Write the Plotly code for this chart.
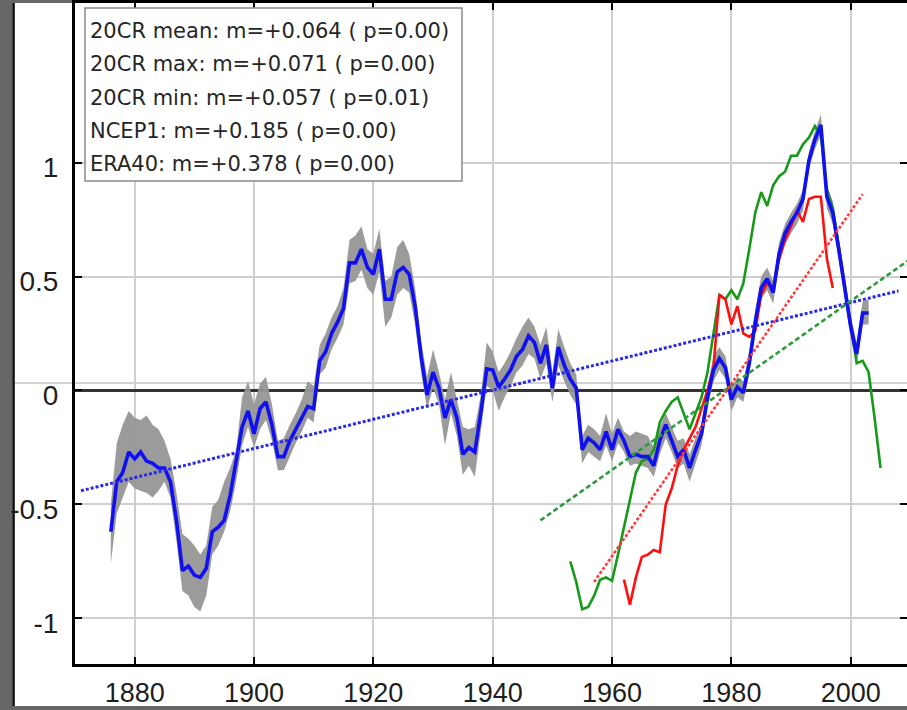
import plotly.graph_objects as go

# 20CR ensemble: yearly mean with ensemble max / min envelope
cr_start = 1876
cr_mean = [
    -0.62, -0.40, -0.36, -0.27, -0.30, -0.27, -0.31, -0.32, -0.34, -0.34,   # 1876-1885
    -0.40, -0.57, -0.79, -0.77, -0.81, -0.82, -0.78, -0.62, -0.60, -0.57,   # 1886-1895
    -0.46, -0.32, -0.16, -0.09, -0.19, -0.08, -0.05, -0.15, -0.29, -0.29,   # 1896-1905
    -0.22, -0.17, -0.12, -0.07, -0.08, 0.13, 0.17, 0.25, 0.30, 0.36,        # 1906-1915
    0.56, 0.56, 0.62, 0.54, 0.51, 0.62, 0.40, 0.40, 0.52, 0.54,             # 1916-1925
    0.51, 0.37, 0.15, -0.02, 0.08, 0.01, -0.12, -0.04, -0.12, -0.28,        # 1926-1935
    -0.25, -0.27, -0.10, 0.095, 0.09, 0.015, 0.05, 0.09, 0.15, 0.18,        # 1936-1945
    0.24, 0.21, 0.12, 0.20, 0.01, 0.19, 0.11, 0.05, 0.01, -0.26,            # 1946-1955
    -0.21, -0.23, -0.26, -0.18, -0.26, -0.17, -0.22, -0.29, -0.28, -0.29,   # 1956-1965
    -0.29, -0.33, -0.22, -0.15, -0.22, -0.29, -0.26, -0.34, -0.26, -0.19,   # 1966-1975
    -0.03, 0.09, 0.14, 0.10, -0.04, 0.015, -0.01, 0.12, 0.30, 0.45,         # 1976-1985
    0.49, 0.43, 0.60, 0.69, 0.74, 0.78, 0.84, 1.01, 1.10, 1.165,            # 1986-1995
    0.85, 0.78, 0.62, 0.45, 0.28, 0.16, 0.34, 0.34,                         # 1996-2003
]
cr_max = [
    -0.50, -0.23, -0.15, -0.09, -0.12, -0.13, -0.11, -0.15, -0.17, -0.22,
    -0.30, -0.45, -0.63, -0.65, -0.68, -0.72, -0.68, -0.51, -0.48, -0.40,
    -0.34, -0.26, -0.03, 0.04, -0.06, 0.03, 0.06, -0.06, -0.22, -0.21,
    -0.15, -0.10, -0.04, 0.04, 0.02, 0.20, 0.25, 0.32, 0.37, 0.45,
    0.66, 0.68, 0.72, 0.62, 0.60, 0.71, 0.48, 0.50, 0.63, 0.66,
    0.60, 0.45, 0.22, 0.06, 0.18, 0.08, -0.04, 0.08, -0.04, -0.16,
    -0.17, -0.16, -0.02, 0.21, 0.17, 0.08, 0.12, 0.17, 0.23, 0.28,
    0.32, 0.28, 0.20, 0.28, 0.08, 0.27, 0.19, 0.12, 0.07, -0.20,
    -0.15, -0.17, -0.20, -0.10, -0.19, -0.12, -0.18, -0.20, -0.18, -0.19,
    -0.20, -0.25, -0.16, -0.10, -0.16, -0.22, -0.21, -0.28, -0.21, -0.14,
    0.02, 0.15, 0.19, 0.15, 0.01, 0.06, 0.04, 0.17, 0.35, 0.50,
    0.54, 0.48, 0.65, 0.73, 0.78, 0.82, 0.88, 1.05, 1.14, 1.21,
    0.90, 0.83, 0.67, 0.50, 0.33, 0.21, 0.39, 0.40,
]
cr_min = [
    -0.76, -0.54, -0.47, -0.40, -0.43, -0.44, -0.45, -0.47, -0.44, -0.40,
    -0.47, -0.66, -0.88, -0.90, -0.95, -0.97, -0.90, -0.72, -0.68, -0.62,
    -0.53, -0.40, -0.24, -0.16, -0.25, -0.17, -0.13, -0.22, -0.35, -0.35,
    -0.29, -0.23, -0.18, -0.12, -0.14, 0.07, 0.10, 0.18, 0.23, 0.29,
    0.47, 0.48, 0.53, 0.45, 0.42, 0.52, 0.28, 0.32, 0.42, 0.45,
    0.43, 0.29, 0.08, -0.08, 0.01, -0.06, -0.24, -0.10, -0.20, -0.37,
    -0.33, -0.38, -0.18, 0.02, 0.00, -0.09, -0.03, 0.02, 0.08, 0.11,
    0.16, 0.14, 0.05, 0.12, -0.05, 0.11, 0.04, -0.02, -0.06, -0.32,
    -0.27, -0.29, -0.31, -0.24, -0.31, -0.23, -0.27, -0.33, -0.32, -0.33,
    -0.34, -0.38, -0.28, -0.21, -0.27, -0.34, -0.32, -0.40, -0.32, -0.24,
    -0.08, 0.04, 0.09, 0.05, -0.09, -0.03, -0.05, 0.07, 0.25, 0.40,
    0.44, 0.38, 0.55, 0.64, 0.69, 0.73, 0.79, 0.97, 1.06, 1.12,
    0.80, 0.73, 0.57, 0.40, 0.23, 0.11, 0.29, 0.29,
]

# NCEP1 reanalysis
ncep_start = 1953
ncep1 = [
    -0.75, -0.84, -0.96, -0.95, -0.90, -0.83, -0.82, -0.835, -0.72, -0.60,  # 1953-1962
    -0.47, -0.36, -0.31, -0.30, -0.26, -0.14, -0.09, -0.05, -0.03, -0.10,   # 1963-1972
    -0.17, -0.10, -0.03, 0.08, 0.25, 0.42, 0.40, 0.44, 0.40, 0.47,          # 1973-1982
    0.62, 0.78, 0.87, 0.81, 0.90, 0.94, 0.96, 1.03, 1.03, 1.08,             # 1983-1992
    1.11, 1.16, 1.12, 0.88, 0.80, 0.63, 0.45, 0.28, 0.12, 0.13,             # 1993-2002
    0.08, -0.12, -0.34,                                                     # 2003-2005
]

# ERA40 reanalysis
era_start = 1962
era40 = [
    -0.83, -0.94, -0.82, -0.73, -0.72, -0.70, -0.71, -0.50, -0.43, -0.33,   # 1962-1971
    -0.26, -0.21, -0.16, -0.08, 0.00, 0.10, 0.42, 0.40, 0.29, 0.37,         # 1972-1981
    0.25, 0.235, 0.26, 0.42, 0.47, 0.45, 0.58, 0.66, 0.72, 0.79,            # 1982-1991
    0.74, 0.84, 0.85, 0.85, 0.58, 0.45,                                     # 1992-1997
]

# Linear trends: slope per decade, fitted period and value at period start
trend_names = ["20CR mean", "20CR max", "20CR min", "NCEP1", "ERA40"]
trend_slopes = [0.064, 0.071, 0.057, 0.185, 0.378]
trend_pvalues = [0.00, 0.00, 0.01, 0.00, 0.00]
trend_periods = {"20CR mean": (1871, 2008), "NCEP1": (1948, 2010), "ERA40": (1957, 2002)}
trend_start_values = {"20CR mean": -0.44, "NCEP1": -0.57, "ERA40": -0.84}

x_ticks = [1880, 1900, 1920, 1940, 1960, 1980, 2000]
y_ticks = [-1, -0.5, 0, 0.5, 1]
y_tick_text = ["-1", "-0.5", "0", "0.5", "1"]

cr_years = list(range(cr_start, cr_start + len(cr_mean)))
ncep_years = list(range(ncep_start, ncep_start + len(ncep1)))
era_years = list(range(era_start, era_start + len(era40)))

W, H = 907, 710
ML, MR, MT, MB = 75, 0, 3, 46
PW, PH = W - ML - MR, H - MT - MB


def px_x(px):
    return (px - ML) / PW


def px_y(py):
    return (H - MB - py) / PH


def trend_line(name):
    x0, x1 = trend_periods[name]
    y0 = trend_start_values[name]
    m = trend_slopes[trend_names.index(name)]
    return [x0, x1], [y0, y0 + m * (x1 - x0) / 10.0]


fig = go.Figure()

# ensemble spread
fig.add_trace(go.Scatter(x=cr_years, y=cr_max, mode="lines", line=dict(width=0, color="#999999"),
                         showlegend=False, hoverinfo="skip"))
fig.add_trace(go.Scatter(x=cr_years, y=cr_min, mode="lines", line=dict(width=0, color="#999999"),
                         fill="tonexty", fillcolor="rgba(150,150,150,0.95)",
                         showlegend=False, hoverinfo="skip"))

fig.add_trace(go.Scatter(x=ncep_years, y=ncep1, mode="lines",
                         line=dict(color="#17991a", width=2.6), name="NCEP1"))
fig.add_trace(go.Scatter(x=era_years, y=era40, mode="lines",
                         line=dict(color="#ff1010", width=2.6), name="ERA40"))
fig.add_trace(go.Scatter(x=cr_years, y=cr_mean, mode="lines",
                         line=dict(color="#1010f0", width=3.6), name="20CR mean"))

trend_styles = {
    "20CR mean": dict(color="#2a2ae6", width=3, dash="3px,2px"),
    "NCEP1": dict(color="#2f9a3a", width=2.6, dash="5px,3px"),
    "ERA40": dict(color="#ff3c3c", width=2.6, dash="3px,2px"),
}
for name in ["20CR mean", "NCEP1", "ERA40"]:
    tx, ty = trend_line(name)
    fig.add_trace(go.Scatter(x=tx, y=ty, mode="lines", line=trend_styles[name],
                             showlegend=False, hoverinfo="skip"))

# tick marks on the right-hand frame edge
fig.add_trace(go.Scatter(x=[None], y=[None], yaxis="y2", showlegend=False, hoverinfo="skip"))

shapes = [
    # white page inside the dark frame
    dict(type="rect", xref="paper", yref="paper", layer="below",
         x0=px_x(15), x1=px_x(W + 5), y0=px_y(706), y1=px_y(3),
         fillcolor="white", line=dict(width=0)),
    dict(type="line", xref="paper", yref="paper", layer="below",
         x0=px_x(13.5), x1=px_x(13.5), y0=px_y(706), y1=px_y(3),
         line=dict(color="#111111", width=2)),
    # thin rule just above the zero line
    dict(type="line", xref="paper", yref="paper", layer="below",
         x0=px_x(15), x1=1, y0=px_y(383), y1=px_y(383),
         line=dict(color="#a8a8a8", width=1)),
    # stats box
    dict(type="rect", xref="paper", yref="paper", layer="above",
         x0=px_x(85), x1=px_x(462), y0=px_y(181), y1=px_y(8),
         fillcolor="white", line=dict(color="#8a8a8a", width=1.5)),
]

annotations = []
line_centres = [31, 64, 98, 131, 164]
for i, name in enumerate(trend_names):
    txt = f"{name}: m=+{trend_slopes[i]:.3f} ( p={trend_pvalues[i]:.2f})"
    annotations.append(dict(xref="paper", yref="paper", x=px_x(88), y=px_y(line_centres[i]),
                            xanchor="left", yanchor="middle", showarrow=False, text=txt,
                            font=dict(family="DejaVu Sans", size=21, color="#262626")))

tick_font = dict(family="Liberation Sans, Arial", size=28, color="#1e1e1e")
x_tick_font = dict(family="Liberation Sans, Arial", size=27, color="#1e1e1e")

fig.update_layout(
    width=W, height=H, autosize=False,
    template="none",
    paper_bgcolor="#666666", plot_bgcolor="white",
    margin=dict(l=ML, r=MR, t=MT, b=MB, pad=0),
    showlegend=False,
    shapes=shapes, annotations=annotations,
    xaxis=dict(range=[1870, 1870 + PW / 5.967], tickvals=x_ticks, ticks="inside", ticklen=7,
               tickwidth=2, tickcolor="black", showline=True, linewidth=3, linecolor="black",
               mirror="ticks", showgrid=True, gridcolor="#cfcfcf", gridwidth=2,
               zeroline=False, tickfont=x_tick_font, ticklabelstandoff=3, automargin=False),
    yaxis=dict(range=[-1.2, 1.7], tickvals=y_ticks, ticktext=y_tick_text, ticks="inside",
               ticklen=7, tickwidth=2, tickcolor="black", showline=True, linewidth=3,
               linecolor="black", showgrid=True, gridcolor="#cfcfcf", gridwidth=2,
               zeroline=True, zerolinecolor="#333333", zerolinewidth=3,
               tickfont=tick_font, ticklabelstandoff=8, ticklabelshift=5, automargin=False),
    yaxis2=dict(range=[-1.2, 1.7], overlaying="y", side="right", tickvals=y_ticks,
                ticks="inside", ticklen=7, tickwidth=2, tickcolor="black",
                showticklabels=False, showline=False, showgrid=False, zeroline=False,
                automargin=False),
)

fig.write_html("out.html")
